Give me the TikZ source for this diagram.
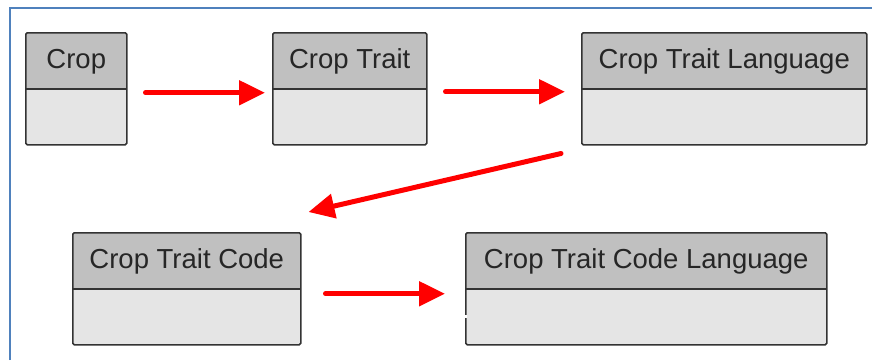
\documentclass[tikz,border=0pt]{standalone}
\usepackage{fontspec}
\setmainfont{Liberation Sans}
\usetikzlibrary{arrows.meta,calc}
\definecolor{hdrc}{HTML}{C0C0C0}
\definecolor{bodyc}{HTML}{E5E5E5}
\definecolor{edgec}{HTML}{333333}
\definecolor{framec}{HTML}{4F81BD}
\definecolor{txtc}{HTML}{262626}
\begin{document}
\begin{tikzpicture}[x=1pt,y=-1pt,
  classbox/.style={draw=edgec, line width=1.5pt, fill=bodyc, rounded corners=1.5pt,
    inner sep=0pt, anchor=north west, minimum height=112pt,
    path picture={
      \fill[hdrc] (path picture bounding box.north west) rectangle ([yshift=-56pt]path picture bounding box.north east);
      \draw[edgec, line width=1.5pt] ([yshift=-56pt]path picture bounding box.north west) -- ([yshift=-56pt]path picture bounding box.north east);
    }},
  title/.style={anchor=base, inner sep=0pt, text=txtc, font=\fontsize{27.5}{33}\selectfont},
  conn/.style={draw=red, line width=5pt, line cap=round, -{Triangle[length=26pt,width=24pt]}}
]
\useasboundingbox (0,0) rectangle (872,360);
\fill[white] (0,0) rectangle (872,360);
\draw[framec, line width=2.5pt] (10,360) -- (10,8) -- (872,8);

\node[classbox, minimum width=101pt] (crop) at (25,32) {};
\node[classbox, minimum width=154pt] (trait) at (272,32) {};
\node[classbox, minimum width=285pt] (traitlang) at (581,32) {};
\node[classbox, minimum width=228pt] (code) at (72,232) {};
\node[classbox, minimum width=361pt] (codelang) at (465,232) {};

\node[title] (cropt) at ($(crop.north)+(0,36)$) {Crop};
\node[title] (traitt) at ($(trait.north)+(0,36)$) {Crop Trait};
\node[title] (traitlangt) at ($(traitlang.north)+(0,36)$) {Crop Trait Language};
\node[title] (codet) at ($(code.north)+(0,36)$) {Crop Trait Code};
\node[title] (codelangt) at ($(codelang.north)+(0,36)$) {Crop Trait Code Language};

\fill[white] (463.5,314.5) rectangle (467,318);

\draw[conn] ($(crop.east)+(18,4)$) -- ($(trait.west)+(-7,4)$);
\draw[conn] ($(trait.east)+(18,3)$) -- ($(traitlang.west)+(-16,3)$);
\draw[conn] ($(traitlang.south west)+(-20,8)$) -- ($(code.north east)+(7,-20)$);
\draw[conn] ($(code.east)+(24,5)$) -- ($(codelang.west)+(-20,5)$);
\end{tikzpicture}
\end{document}
